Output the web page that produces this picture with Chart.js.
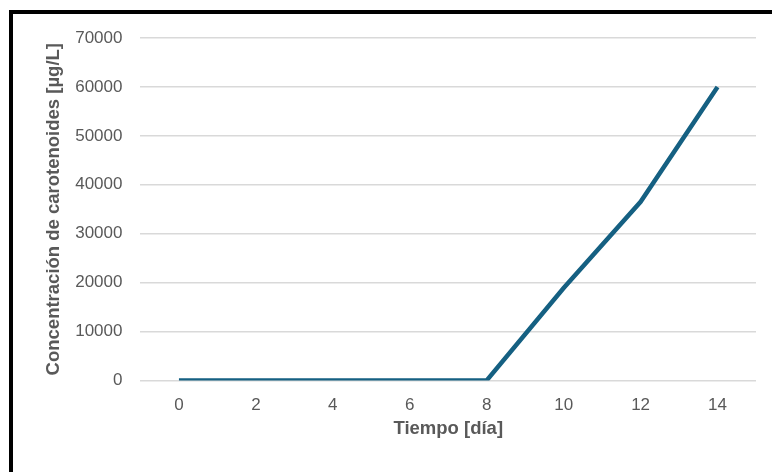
<!DOCTYPE html>
<html>
<head>
<meta charset="utf-8">
<script src="https://cdn.jsdelivr.net/npm/chart.js@4"></script>
<style>
  html, body { margin: 0; padding: 0; background: #fff; overflow: hidden; }
  body { width: 772px; height: 472px; position: relative; }
  .marco {
    position: absolute; left: 9px; top: 10px; width: 800px; height: 500px;
    border: 4px solid #000; box-sizing: border-box;
  }
  #grafico { position: absolute; left: 0; top: 0; }
</style>
</head>
<body>
<div class="marco"></div>
<canvas id="grafico" width="772" height="472"></canvas>
<script>
// dias de cultivo
const dias = ['0', '2', '4', '6', '8', '10', '12', '14'];
// concentracion de carotenoides [µg/L]
const carotenoides = [0, 0, 0, 0, 0, 18900, 36500, 60000];
const yMin = 0;
const yMax = 70000;
const yPaso = 10000;

const gris = '#595959';
const fuente = "'Liberation Sans', Arial, sans-serif";

const ctx = document.getElementById('grafico');
new Chart(ctx, {
  type: 'line',
  data: {
    labels: dias,
    datasets: [{
      label: 'Carotenoides',
      data: carotenoides,
      borderColor: '#156082',
      borderWidth: 4.5,
      pointRadius: 0,
      tension: 0,
      fill: false
    }]
  },
  options: {
    responsive: false,
    animation: false,
    layout: { padding: { left: 43, right: 16, top: 38, bottom: 32 } },
    plugins: {
      legend: { display: false },
      tooltip: { enabled: false }
    },
    scales: {
      x: {
        offset: true,
        grid: { display: false, drawTicks: false },
        border: { display: false },
        ticks: { color: gris, font: { family: fuente, size: 17 }, padding: 15, maxRotation: 0 },
        title: {
          display: true,
          text: 'Tiempo [día]',
          color: gris,
          font: { family: fuente, size: 18.5, weight: 'bold' },
          padding: { top: -13, bottom: 0 }
        }
      },
      y: {
        min: yMin,
        max: yMax,
        ticks: {
          stepSize: yPaso, color: gris, font: { family: fuente, size: 17 }, padding: 18,
          callback: (v) => String(v)
        },
        grid: { color: '#d9d9d9', lineWidth: 1.5, drawTicks: false },
        border: { display: false },
        title: {
          display: true,
          text: 'Concentración de carotenoides [µg/L]',
          color: gris,
          font: { family: fuente, size: 18.5, weight: 'bold' },
          padding: { top: 0, bottom: -8 }
        }
      }
    }
  }
});
</script>
</body>
</html>
